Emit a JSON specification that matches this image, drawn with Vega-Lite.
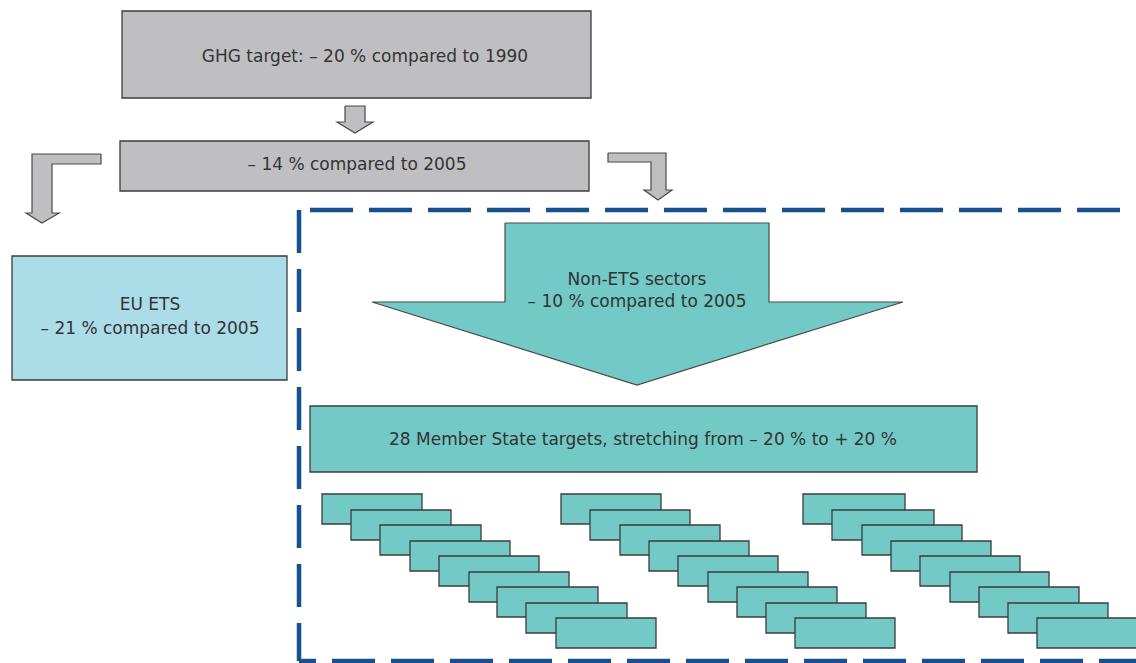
{
  "$schema": "https://vega.github.io/schema/vega-lite/v6.json",
  "width": 1136,
  "height": 663,
  "autosize": {"type": "none"},
  "padding": 0,
  "background": "white",
  "config": {"view": {"stroke": null}},
  "datasets": {
    "boxes": [
      {"x": 122, "x2": 591, "y": 11, "y2": 98, "c": "gray"},
      {"x": 120, "x2": 589, "y": 141, "y2": 191, "c": "gray"},
      {"x": 12, "x2": 287, "y": 256, "y2": 380, "c": "ets"},
      {"x": 310, "x2": 977, "y": 406, "y2": 472, "c": "teal"},
      {"x": 322, "x2": 422, "y": 494, "y2": 524, "c": "teal"},
      {"x": 351, "x2": 451, "y": 510, "y2": 540, "c": "teal"},
      {"x": 380, "x2": 481, "y": 525, "y2": 555, "c": "teal"},
      {"x": 410, "x2": 510, "y": 541, "y2": 571, "c": "teal"},
      {"x": 439, "x2": 539, "y": 556, "y2": 586, "c": "teal"},
      {"x": 469, "x2": 569, "y": 572, "y2": 602, "c": "teal"},
      {"x": 497, "x2": 598, "y": 587, "y2": 617, "c": "teal"},
      {"x": 526, "x2": 627, "y": 603, "y2": 633, "c": "teal"},
      {"x": 556, "x2": 656, "y": 618, "y2": 648, "c": "teal"},
      {"x": 561, "x2": 661, "y": 494, "y2": 524, "c": "teal"},
      {"x": 590, "x2": 690, "y": 510, "y2": 540, "c": "teal"},
      {"x": 620, "x2": 720, "y": 525, "y2": 555, "c": "teal"},
      {"x": 649, "x2": 749, "y": 541, "y2": 571, "c": "teal"},
      {"x": 678, "x2": 778, "y": 556, "y2": 586, "c": "teal"},
      {"x": 708, "x2": 808, "y": 572, "y2": 602, "c": "teal"},
      {"x": 737, "x2": 837, "y": 587, "y2": 617, "c": "teal"},
      {"x": 766, "x2": 866, "y": 603, "y2": 633, "c": "teal"},
      {"x": 795, "x2": 895, "y": 618, "y2": 648, "c": "teal"},
      {"x": 803, "x2": 905, "y": 494, "y2": 524, "c": "teal"},
      {"x": 832, "x2": 934, "y": 510, "y2": 540, "c": "teal"},
      {"x": 862, "x2": 962, "y": 525, "y2": 555, "c": "teal"},
      {"x": 891, "x2": 991, "y": 541, "y2": 571, "c": "teal"},
      {"x": 920, "x2": 1020, "y": 556, "y2": 586, "c": "teal"},
      {"x": 950, "x2": 1049, "y": 572, "y2": 602, "c": "teal"},
      {"x": 979, "x2": 1079, "y": 587, "y2": 617, "c": "teal"},
      {"x": 1008, "x2": 1108, "y": 603, "y2": 633, "c": "teal"},
      {"x": 1037, "x2": 1137, "y": 618, "y2": 648, "c": "teal"}
    ],
    "arrowRects": [
      {"x": 345, "x2": 365, "y": 106, "y2": 122.5, "c": "gray"},
      {"x": 32, "x2": 101, "y": 154, "y2": 164, "c": "gray"},
      {"x": 32, "x2": 52, "y": 154, "y2": 213.5, "c": "gray"},
      {"x": 608, "x2": 666, "y": 153, "y2": 162, "c": "gray"},
      {"x": 651, "x2": 666, "y": 153, "y2": 190.5, "c": "gray"},
      {"x": 505, "x2": 769, "y": 223, "y2": 302.5, "c": "teal"}
    ],
    "arrowTris": [
      {"id": "small", "x": 337, "y": 122, "y2": 122, "c": "gray"},
      {"id": "small", "x": 355, "y": 122, "y2": 133, "c": "gray"},
      {"id": "small", "x": 373, "y": 122, "y2": 122, "c": "gray"},
      {"id": "left", "x": 26, "y": 213, "y2": 213, "c": "gray"},
      {"id": "left", "x": 42, "y": 213, "y2": 223, "c": "gray"},
      {"id": "left", "x": 59, "y": 213, "y2": 213, "c": "gray"},
      {"id": "right", "x": 644, "y": 190, "y2": 190, "c": "gray"},
      {"id": "right", "x": 658, "y": 190, "y2": 200, "c": "gray"},
      {"id": "right", "x": 672, "y": 190, "y2": 190, "c": "gray"},
      {"id": "nonets", "x": 372, "y": 302, "y2": 302, "c": "teal"},
      {"id": "nonets", "x": 637, "y": 302, "y2": 385, "c": "teal"},
      {"id": "nonets", "x": 903, "y": 302, "y2": 302, "c": "teal"}
    ],
    "outlines": [
      {"id": "small", "o": 1, "x": 345, "y": 106},
      {"id": "small", "o": 2, "x": 365, "y": 106},
      {"id": "small", "o": 3, "x": 365, "y": 122},
      {"id": "small", "o": 4, "x": 373, "y": 122},
      {"id": "small", "o": 5, "x": 355, "y": 133},
      {"id": "small", "o": 6, "x": 337, "y": 122},
      {"id": "small", "o": 7, "x": 345, "y": 122},
      {"id": "small", "o": 8, "x": 345, "y": 106},
      {"id": "left", "o": 1, "x": 101, "y": 154},
      {"id": "left", "o": 2, "x": 32, "y": 154},
      {"id": "left", "o": 3, "x": 32, "y": 213},
      {"id": "left", "o": 4, "x": 26, "y": 213},
      {"id": "left", "o": 5, "x": 42, "y": 223},
      {"id": "left", "o": 6, "x": 59, "y": 213},
      {"id": "left", "o": 7, "x": 52, "y": 213},
      {"id": "left", "o": 8, "x": 52, "y": 164},
      {"id": "left", "o": 9, "x": 101, "y": 164},
      {"id": "left", "o": 10, "x": 101, "y": 154},
      {"id": "right", "o": 1, "x": 608, "y": 153},
      {"id": "right", "o": 2, "x": 666, "y": 153},
      {"id": "right", "o": 3, "x": 666, "y": 190},
      {"id": "right", "o": 4, "x": 672, "y": 190},
      {"id": "right", "o": 5, "x": 658, "y": 200},
      {"id": "right", "o": 6, "x": 644, "y": 190},
      {"id": "right", "o": 7, "x": 651, "y": 190},
      {"id": "right", "o": 8, "x": 651, "y": 162},
      {"id": "right", "o": 9, "x": 608, "y": 162},
      {"id": "right", "o": 10, "x": 608, "y": 153},
      {"id": "nonets", "o": 1, "x": 505, "y": 223},
      {"id": "nonets", "o": 2, "x": 769, "y": 223},
      {"id": "nonets", "o": 3, "x": 769, "y": 302},
      {"id": "nonets", "o": 4, "x": 903, "y": 302},
      {"id": "nonets", "o": 5, "x": 637, "y": 385},
      {"id": "nonets", "o": 6, "x": 372, "y": 302},
      {"id": "nonets", "o": 7, "x": 505, "y": 302},
      {"id": "nonets", "o": 8, "x": 505, "y": 223}
    ],
    "dashes": [
      {"x": 310, "x2": 1140, "y": 210, "y2": 210},
      {"x": 299, "x2": 299, "y": 210, "y2": 661}
    ],
    "dashBottom": [
      {"x": 299, "x2": 1140, "y": 661, "y2": 661}
    ],
    "labels": [
      {"x": 365, "y": 57, "t": "GHG target: – 20 % compared to 1990"},
      {"x": 357, "y": 165, "t": "– 14 % compared to 2005"},
      {"x": 150, "y": 305, "t": "EU ETS"},
      {"x": 150, "y": 329, "t": "– 21 % compared to 2005"},
      {"x": 637, "y": 280, "t": "Non-ETS sectors"},
      {"x": 637, "y": 302, "t": "– 10 % compared to 2005"},
      {"x": 643, "y": 440, "t": "28 Member State targets, stretching from – 20 % to + 20 %"}
    ]
  },
  "encoding": {
    "x": {"field": "x", "type": "quantitative", "scale": {"domain": [0, 1136], "nice": false, "zero": false}, "axis": null},
    "y": {"field": "y", "type": "quantitative", "scale": {"domain": [0, 663], "nice": false, "zero": false, "reverse": true}, "axis": null}
  },
  "layer": [
    {
      "data": {"name": "dashes"},
      "mark": {"type": "rule", "color": "#17508E", "strokeWidth": 4.5, "strokeDash": [43, 16], "strokeCap": "butt"},
      "encoding": {"x2": {"field": "x2"}, "y2": {"field": "y2"}}
    },
    {
      "data": {"name": "dashBottom"},
      "mark": {"type": "rule", "color": "#17508E", "strokeWidth": 4.5, "strokeDash": [43, 16], "strokeDashOffset": 26, "strokeCap": "butt"},
      "encoding": {"x2": {"field": "x2"}, "y2": {"field": "y2"}}
    },
    {
      "data": {"name": "boxes"},
      "mark": {"type": "rect", "stroke": "#3c3c3c", "strokeWidth": 1.3},
      "encoding": {
        "x2": {"field": "x2"},
        "y2": {"field": "y2"},
        "fill": {"field": "c", "type": "nominal", "scale": {"domain": ["gray", "ets", "teal"], "range": ["#BFBFC1", "#ABDDE9", "#72C9C6"]}, "legend": null}
      }
    },
    {
      "data": {"name": "arrowRects"},
      "mark": {"type": "rect", "strokeWidth": 0},
      "encoding": {
        "x2": {"field": "x2"},
        "y2": {"field": "y2"},
        "fill": {"field": "c", "type": "nominal", "scale": {"domain": ["gray", "ets", "teal"], "range": ["#BFBFC1", "#ABDDE9", "#72C9C6"]}, "legend": null}
      }
    },
    {
      "data": {"name": "arrowTris"},
      "mark": {"type": "area", "interpolate": "linear", "strokeWidth": 0},
      "encoding": {
        "y": {"field": "y", "type": "quantitative", "stack": null},
        "y2": {"field": "y2"},
        "detail": {"field": "id"},
        "fill": {"field": "c", "type": "nominal", "scale": {"domain": ["gray", "ets", "teal"], "range": ["#BFBFC1", "#ABDDE9", "#72C9C6"]}, "legend": null}
      }
    },
    {
      "data": {"name": "outlines"},
      "mark": {"type": "line", "color": "#4a4a4a", "strokeWidth": 1.2, "strokeJoin": "miter"},
      "encoding": {
        "detail": {"field": "id"},
        "order": {"field": "o", "type": "quantitative"}
      }
    },
    {
      "data": {"name": "labels"},
      "mark": {"type": "text", "font": "DejaVu Sans", "fontSize": 17, "color": "#333333", "align": "center", "baseline": "middle"},
      "encoding": {"text": {"field": "t"}}
    }
  ]
}
